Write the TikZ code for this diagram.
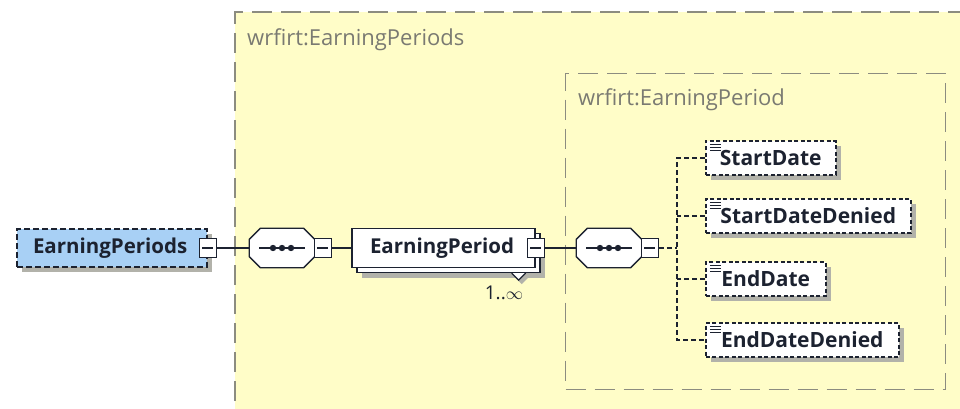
\documentclass[tikz,border=0pt]{standalone}
\usepackage{fontspec}
\setmainfont{Open Sans}
\usetikzlibrary{shadows}
\definecolor{bgyellow}{HTML}{FFFDC8}
\definecolor{elblue}{HTML}{A8D0F5}
\definecolor{grpgray}{HTML}{8C8C80}
\definecolor{lblgray}{HTML}{7A7A72}
\definecolor{shadowgray}{HTML}{B2B2AA}
\definecolor{ink}{HTML}{1C2230}
\tikzset{
  shd/.style={drop shadow={shadow xshift=5pt,shadow yshift=-5pt,fill=shadowgray,opacity=1}},
  grpbox/.style={draw=grpgray,line width=1.3pt,dash pattern=on 20pt off 9pt},
  grplabel/.style={text=lblgray,font=\fontsize{22}{24}\selectfont,anchor=west,inner sep=0pt},
  topel/.style={draw=ink,fill=elblue,line width=1.5pt,dash pattern=on 6pt off 3pt,
    minimum height=38pt,inner xsep=16pt,inner ysep=0pt,text width=158pt,align=left,
    text=ink,font=\bfseries\fontsize{20.5}{24}\selectfont,shd},
  elbox/.style={draw=ink,fill=white,line width=1.3pt,minimum height=39pt,inner xsep=18pt,
    inner ysep=0pt,text=ink,font=\bfseries\fontsize{20.5}{24}\selectfont},
  minusbox/.style={draw=ink,fill=white,line width=1.2pt,minimum width=17pt,minimum height=19pt,
    inner sep=0pt,path picture={\draw[ink,line width=1.2pt]
      ([xshift=3pt]path picture bounding box.west) -- ([xshift=-3pt]path picture bounding box.east);}},
  seqanchor/.style={minimum width=65pt,minimum height=39pt,inner sep=0pt},
  octline/.style={draw=ink,fill=white,line width=1.3pt},
  childbox/.style={draw=ink,fill=white,line width=1.5pt,dash pattern=on 4pt off 2.5pt,
    minimum height=34pt,inner ysep=0pt,text=ink,anchor=west,font=\bfseries\fontsize{21}{24}\selectfont,shd,
    path picture={\foreach \k in {3,6,9} \draw[ink,line width=0.9pt,solid]
      ([xshift=4pt,yshift=-\k pt]path picture bounding box.north west) -- ++(11pt,0);}},
  conn/.style={draw=ink,line width=1.3pt},
  dconn/.style={draw=ink,line width=1.3pt,dash pattern=on 5pt off 3pt},
}
\newcommand\octapath[2]{([xshift=#2]#1.north west) -- ([xshift=-#2]#1.north east) -- ([yshift=-#2]#1.north east) -- ([yshift=#2]#1.south east) -- ([xshift=-#2]#1.south east) -- ([xshift=#2]#1.south west) -- ([yshift=#2]#1.south west) -- ([yshift=-#2]#1.north west) -- cycle}
\newcommand\seqglyph[1]{%
  \fill[shadowgray,xshift=5pt,yshift=-5pt] \octapath{#1}{11pt};
  \draw[octline] \octapath{#1}{11pt};
  \draw[ink,line width=1.3pt] ([xshift=10pt]#1.west) -- ([xshift=-10pt]#1.east);
  \foreach \dx in {-9,0,9} \fill[ink] ([xshift=\dx pt]#1.center) circle (3.2pt);}
\begin{document}
\begin{tikzpicture}[x=1pt,y=-1pt]
\useasboundingbox (0,0) rectangle (960,409);
\clip (0,0) rectangle (960,409);
\fill[white] (0,0) rectangle (960,409);
% outer group
\fill[bgyellow] (235,12) rectangle (985,430);
\draw[grpbox] (235,430) -- (235,12) -- (985,12);
\node[grplabel] (lblA) at (247,40) {wrfirt:EarningPeriods};
% inner group
\node[grpbox,minimum width=380pt,minimum height=316pt,anchor=north west,inner sep=0pt] (inner) at (565,73) {};
\node[grplabel] (lblB) at (578,100) {wrfirt:EarningPeriod};
% top element
\node[topel] (ep) at (112,248) {EarningPeriods};
\node[minusbox] (m1) at (ep.east) {};
% sequence 1
\node[seqanchor] (s1) at (282,248) {};
\seqglyph{s1}
\node[minusbox,anchor=west] (m2) at ([xshift=-1pt]s1.east) {};
% EarningPeriod (repeated)
\node[elbox,minimum width=183pt,shd] (epb) at (448.5,253) {};
\node[elbox,minimum width=183pt,text width=147pt,align=left] (ep2) at (443.5,248) {EarningPeriod};
\node[minusbox] (m3) at (ep2.east) {};
\fill[shadowgray] ([xshift=-26pt,yshift=-4pt]epb.south east) -- ++(7pt,-7pt) -- ++(7pt,7pt) -- cycle;
\draw[ink,fill=white,line width=1.2pt] ([xshift=-29pt]epb.south east) coordinate (nA) -- ++(7pt,-7pt) coordinate (nB) -- ++(7pt,7pt) coordinate (nC);
\node[text=ink,font=\fontsize{19}{22}\selectfont,inner sep=0pt] (mult) at (504,293) {1..$\infty$};
% sequence 2
\node[seqanchor] (s2) at (609,248) {};
\seqglyph{s2}
\node[minusbox,anchor=west] (m4) at ([xshift=-1pt]s2.east) {};
% children
\node[childbox,minimum width=130pt] (c1) at (705,158) {StartDate};
\node[childbox,minimum width=205pt] (c2) at (705,216) {StartDateDenied};
\node[childbox,minimum width=120pt] (c3) at (705,279) {EndDate};
\node[childbox,minimum width=193pt] (c4) at (705,340) {EndDateDenied};
% connectors
\draw[conn] (m1.east) -- (s1.west);
\draw[conn] (m2.east) -- (ep2.west);
\draw[conn] (m3.east) -- (s2.west);
\coordinate (bus) at (677,248);
\draw[dconn] (m4.east) -- (bus);
\draw[dconn] (c1.west) -- (c1.west -| bus) -- (c4.west -| bus) -- (c4.west);
\draw[dconn] (c2.west) -- (c2.west -| bus);
\draw[dconn] (c3.west) -- (c3.west -| bus);
\end{tikzpicture}
\end{document}
